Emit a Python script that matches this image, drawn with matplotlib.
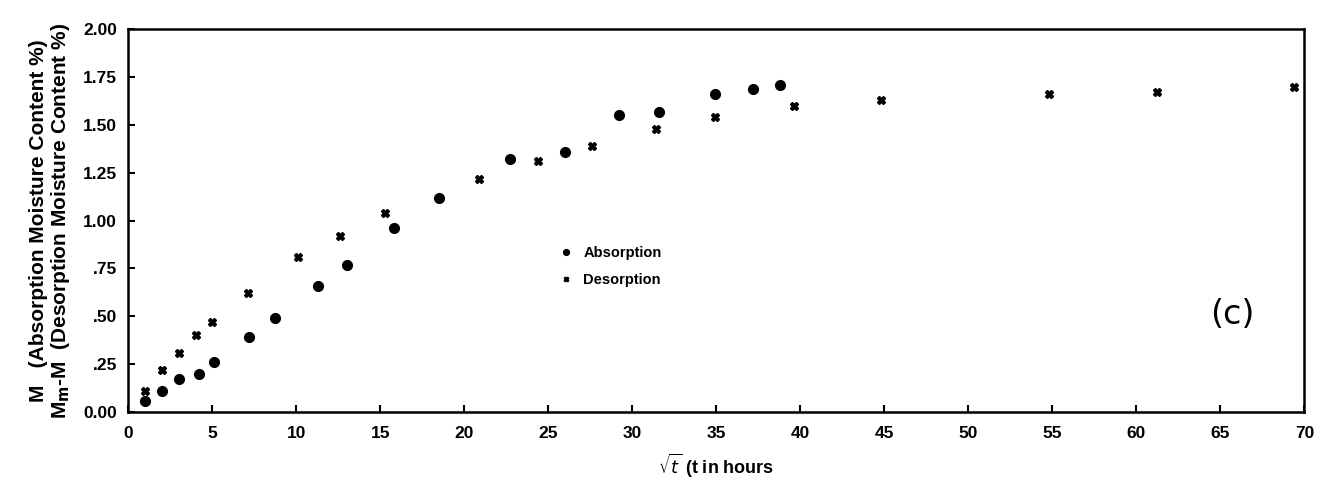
import matplotlib.pyplot as plt

plt.rcParams['font.family'] = ['Liberation Sans', 'DejaVu Sans']

# Absorption data (sqrt of hours, moisture %)
abs_x = [1.0, 2.0, 3.0, 4.2, 5.1, 7.2, 8.7, 11.3, 13.0, 15.8, 18.5, 22.7, 26.0, 29.2, 31.6, 34.9, 37.2, 38.8]
abs_y = [0.06, 0.11, 0.17, 0.20, 0.26, 0.39, 0.49, 0.66, 0.77, 0.96, 1.12, 1.32, 1.36, 1.55, 1.57, 1.66, 1.69, 1.71]

# Desorption data
des_x = [1.0, 2.0, 3.0, 4.0, 5.0, 7.1, 10.1, 12.6, 15.3, 20.9, 24.4, 27.6, 31.4, 34.9, 39.6, 44.8, 54.8, 61.2, 69.4]
des_y = [0.11, 0.22, 0.31, 0.40, 0.47, 0.62, 0.81, 0.92, 1.04, 1.22, 1.31, 1.39, 1.48, 1.54, 1.60, 1.63, 1.66, 1.67, 1.70]

x_ticks = list(range(0, 71, 5))
y_ticks = [0.0, 0.25, 0.5, 0.75, 1.0, 1.25, 1.5, 1.75, 2.0]
y_tick_labels = ['0.00', '.25', '.50', '.75', '1.00', '1.25', '1.50', '1.75', '2.00']

fig = plt.figure(figsize=(13.23, 4.87), dpi=100)
ax = fig.add_axes([0.097, 0.154, 0.889, 0.786])

ax.plot(abs_x, abs_y, linestyle='none', marker='o', markersize=7, color='black', label='Absorption')
ax.plot(des_x, des_y, linestyle='none', marker='X', markersize=5.5, color='black', label='Desorption')

ax.set_xlim(0, 70)
ax.set_ylim(0, 2.0)
ax.set_xticks(x_ticks)
ax.set_yticks(y_ticks)
ax.set_yticklabels(y_tick_labels)
ax.tick_params(direction='in', length=5, width=1.5, labelsize=12.5)
ax.tick_params(axis='x', pad=10)
ax.tick_params(axis='y', pad=8)
for lbl in ax.get_xticklabels() + ax.get_yticklabels():
    lbl.set_fontweight('bold')
for s in ax.spines.values():
    s.set_linewidth(1.8)

ax.set_xlabel(r'$\sqrt{t}$ (t in hours', fontsize=13, fontweight='bold', labelpad=8)
ax.set_ylabel('M   (Absorption Moisture Content %)\n' + r'M$_\mathbf{m}$-M  (Desorption Moisture Content %)',
              fontsize=15, fontweight='bold', linespacing=1.05, labelpad=8)

ax.legend(loc='center left', bbox_to_anchor=(0.356, 0.38), frameon=False,
          markerscale=0.6, handlelength=0.8, handletextpad=0.8,
          labelspacing=0.9, prop={'weight': 'bold', 'size': 10.5})

ax.text(65.7, 0.51, '(c)', fontsize=24, family='DejaVu Sans', ha='center', va='center')

fig.savefig('out.png', dpi=100)
